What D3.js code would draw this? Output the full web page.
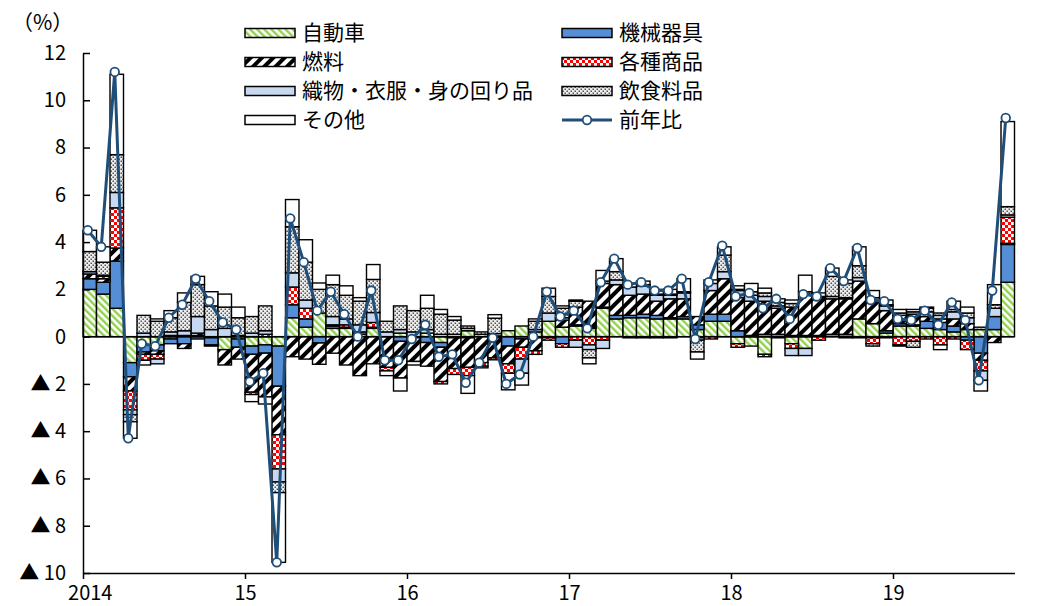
<!DOCTYPE html>
<html>
<head>
<meta charset="utf-8">
<script src="https://cdn.jsdelivr.net/npm/d3@7"></script>
<style>
    body { margin: 0; background: #fff; }
    svg { display: block; font-family: "Noto Sans CJK JP", "Noto Sans", sans-serif; }
</style>
</head>
<body>
<svg id="chart" width="1053" height="606"></svg>
<script>
/**
 * Data: contributions by category (%pt), one value per month from 2014.01.
 */
const yearLabels = ['2014', '15', '16', '17', '18', '19'];
const seriesNames = ['自動車', '機械器具', '燃料', '各種商品', '織物・衣服・身の回り品', '飲食料品', 'その他'];
const lineName = '前年比';

const auto = [
    2.0, 1.8, 1.2, -1.1, -0.35, -0.35, -0.1, 0.05, 0.05, -0.05, -0.55, -0.1,
    -0.4, -0.35, -0.4, 0.8, 0.4, 1.0, 0.35, 0.35, 0.1, 0.35, 0, 0.15,
    0, 0.15, -0.25, 0, 0.25, 0.1, 0.03, 0.25, 0.45, 0.2, 0.65, 0.4,
    0.45, 0.35, 1.2, 0.75, 0.8, 0.8, 0.75, 0.75, 0.75, 0.3, 0.65, 0.65,
    -0.3, -0.4, -0.75, -0.05, -0.3, -0.5, 0, 0, 0, 0.75, 0.55, 0.15,
    0.45, 0.45, 0.35, 0.3, 0.2, 0.3, 0.3, 0.3, 2.3
];
const machinery = [
    0.45, 0.5, 2.0, -0.6, -0.3, -0.25, -0.2, -0.3, -0.1, -0.3, 0, -0.35,
    -0.35, -0.35, -1.7, 0.55, 0.35, -0.27, 0.1, 0.05, 0.1, 0.05, 0, -0.2,
    -0.05, -0.25, -0.2, -0.05, -0.05, 0, -0.05, -0.4, -0.1, -0.05, 0, -0.3,
    0.05, 0.05, 0.05, 0.15, 0.1, 0.15, 0.15, 0.05, 0.1, 0.2, 0.3, 0.3,
    0.25, 0.05, 0.1, 0.1, 0.05, 0.05, 0.05, 0.1, 0.1, 0, -0.05, 0.1,
    0.1, 0.05, 0.3, 0.3, 0.25, -0.15, -0.7, 0.55, 1.6
];
const fuel = [
    0.2, 0.15, 0.55, -0.6, -0.1, -0.15, 0.05, -0.2, 0.1, 0, -0.65, -0.5,
    -1.6, -1.85, -2.05, -0.85, -0.95, -0.9, -0.7, -1.2, -1.65, -1.15, -1.3, -1.55,
    -1.0, -1.0, -1.45, -1.3, -1.25, -1.1, -0.85, -0.75, -0.35, -0.55, -0.05, 0.3,
    0.75, 1.1, 1.0, 1.3, 0.85, 0.85, 0.6, 0.8, 0.75, 0.35, 1.0, 1.5,
    1.4, 1.45, 1.4, 1.1, 1.2, 1.75, 1.6, 1.5, 1.5, 1.6, 0.95, 0.85,
    0.35, 0.45, 0.2, 0.15, 0.3, 0.25, -0.3, -0.25, 0.05
];
const variety = [
    0, 0.1, 1.7, -0.8, -0.25, -0.2, 0, 0, 0, -0.05, 0, 0,
    -0.1, 0.1, -1.45, 0.75, 0.45, 0, 0.05, 0.1, 0, 0.2, -0.15, 0,
    0, 0, -0.1, -0.25, -0.35, -0.15, -0.08, -0.4, -0.5, -0.15, -0.1, -0.15,
    -0.15, -0.35, -0.15, 0, -0.05, -0.05, -0.05, -0.05, 0, -0.05, -0.1, 0,
    -0.15, 0, -0.1, 0, -0.2, 0, -0.15, 0, -0.05, -0.05, -0.25, -0.05,
    -0.35, -0.2, -0.1, -0.35, -0.1, -0.4, -0.45, 0, 1.1
];
const textiles = [
    0.1, 0.05, 0.65, -0.2, 0.15, -0.2, 0.15, 0.2, 0.7, 0.3, 0.35, 0.05,
    0.15, 0.15, -0.55, 0.6, 0.35, 0, 0.35, 0.25, 0.3, 0.42, 0.2, 0.15,
    0.2, 0.15, 0.1, 0.1, 0.1, 0, 0.1, 0, -0.6, 0.1, 0.35, 0.1,
    -0.3, -0.2, -0.35, 0.2, 0.35, 0.35, 0.25, 0.15, 0.25, -0.1, 0.3, 0.3,
    0.3, 0.25, 0.2, 0.1, -0.3, -0.3, 0, 0.1, 0.05, 0.15, 0.15, 0.2,
    0.1, 0.1, 0.2, 0.15, 0.3, 0.25, -0.4, 0.35, 0.1
];
const food = [
    0.85, 0.55, 1.6, -0.3, 0.75, 0.65, 0.6, 1.2, 1.35, 1.0, 0.9, 0.75,
    0.7, 1.05, -0.45, 1.95, 1.6, 1.0, 1.35, 1.0, 1.0, 1.4, 0.45, 1.0,
    0.9, 0.9, 0.85, 0.6, 0.1, 0.1, 0.65, 0, 0, 0.35, 0.7, 0.4,
    0.25, -0.35, 0.1, 0.35, 0, 0.05, 0.05, 0.05, 0.05, -0.5, 0, 0.7,
    0.05, 0.15, 0.15, 0.15, 0.15, 0.1, 0.05, 0.85, 0.6, 0.5, -0.1, 0.05,
    -0.05, -0.25, 0.15, 0.1, 0.1, 0.2, 0.1, 0.15, 0.35
];
const other = [
    0.9, 0.65, 3.4, -0.7, -0.2, 0.1, 0.3, 0.4, 0.35, 0.6, 0.55, 0.45,
    -0.3, -0.3, -2.95, 1.15, 0.95, 0.27, 0.4, 0.4, 0.15, 0.63, -0.2, -0.55,
    -0.15, 0.55, 0.2, 0.15, -0.75, -0.07, 0.15, -0.7, -0.5, 0.1, 0.35, 0.1,
    0.05, -0.25, 0.45, 0.55, 0.15, 0.15, 0.2, 0.2, 0.55, -0.3, 0.15, 0.35,
    0.15, 0.35, 0.2, 0.15, 0.15, 0.7, 0.15, 0.35, 0.15, 0.8, 0.3, 0.2,
    0.15, 0.1, 0.05, -0.2, 0.35, 0.25, -0.45, 0.85, 3.6
];
const yoy = [
    4.5, 3.8, 11.2, -4.3, -0.3, -0.4, 0.8, 1.35, 2.45, 1.5, 0.6, 0.3,
    -1.9, -1.55, -9.55, 5.0, 3.15, 1.1, 1.9, 0.95, 0.0, 1.95, -1.0, -1.0,
    -0.1, 0.5, -0.85, -0.75, -1.95, -1.1, -0.05, -2.0, -1.6, 0.0, 1.9, 0.85,
    1.1, 0.35, 2.3, 3.3, 2.2, 2.3, 1.95, 1.95, 2.45, -0.1, 2.3, 3.85,
    1.7, 1.85, 1.2, 1.6, 0.75, 1.8, 1.7, 2.9, 2.35, 3.75, 1.55, 1.5,
    0.75, 0.7, 1.1, 0.5, 1.45, 0.7, -1.85, 1.95, 9.25
];

/**
 * Visual configs.
 */
const plot = { left: 83, right: 1014.5, top: 53, bottom: 573 },
    lineColor = '#1F4E79',
    fills = ['url(#pat-auto)', '#558ED5', 'url(#pat-fuel)', 'url(#pat-variety)', '#C6D9F1', 'url(#pat-food)', '#fff'],
    legendCols = [245, 562],
    legendRows = [33, 62, 91, 120];

/**
 * Table built from the arrays.
 */
const keys = ['auto', 'machinery', 'fuel', 'variety', 'textiles', 'food', 'other'];
const columns = [auto, machinery, fuel, variety, textiles, food, other];
const months = auto.map((_, i) => (2014 + Math.floor(i / 12)) + '-' + String(i % 12 + 1).padStart(2, '0'));
const table = months.map((m, i) => {
    const row = { month: m };
    keys.forEach((k, j) => { row[k] = columns[j][i]; });
    return row;
});

/**
 * D3.
 */
const svg = d3.select('#chart');
const x = d3.scaleBand().domain(months).range([plot.left, plot.right]).padding(0);
const xIndex = d3.scaleLinear().domain([0, months.length]).range([plot.left, plot.right]);
const y = d3.scaleLinear().domain([-10, 12]).range([plot.bottom, plot.top]);
const stacked = d3.stack().keys(keys).offset(d3.stackOffsetDiverging)(table);

svg.append('rect').attr('width', 1053).attr('height', 606).attr('fill', '#fff');

/**
 * Patterns.
 */
const defs = svg.append('defs');

function stripes(id, size, band, color, angle) {
    const p = defs.append('pattern').attr('id', id)
        .attr('patternUnits', 'userSpaceOnUse')
        .attr('width', size).attr('height', size)
        .attr('patternTransform', 'rotate(' + angle + ')');
    p.append('rect').attr('width', size).attr('height', size).attr('fill', '#fff');
    p.append('rect').attr('width', band).attr('height', size).attr('fill', color);
}
stripes('pat-auto', 5, 2.4, '#92D050', -45);
stripes('pat-fuel', 8, 4, '#000', 45);

const checker = defs.append('pattern').attr('id', 'pat-variety')
    .attr('patternUnits', 'userSpaceOnUse').attr('width', 6).attr('height', 6);
checker.append('rect').attr('width', 6).attr('height', 6).attr('fill', '#fff');
checker.append('rect').attr('width', 3).attr('height', 3).attr('fill', '#FF0000');
checker.append('rect').attr('x', 3).attr('y', 3).attr('width', 3).attr('height', 3).attr('fill', '#FF0000');

const dots = defs.append('pattern').attr('id', 'pat-food')
    .attr('patternUnits', 'userSpaceOnUse').attr('width', 4).attr('height', 4);
dots.append('rect').attr('width', 4).attr('height', 4).attr('fill', '#EDEDED');
dots.append('rect').attr('x', 0.5).attr('y', 0.5).attr('width', 1.5).attr('height', 1.5).attr('fill', '#555');
dots.append('rect').attr('x', 2.5).attr('y', 2.5).attr('width', 1.5).attr('height', 1.5).attr('fill', '#555');

/**
 * Stacked bars.
 */
const layers = svg.append('g').attr('class', 'layers')
    .selectAll('g').data(stacked).join('g')
    .attr('fill', (d, i) => fills[i]);

layers.selectAll('rect')
    .data(d => d.filter(s => s[1] !== s[0]))
    .join('rect')
    .attr('x', s => x(s.data.month))
    .attr('width', x.bandwidth())
    .attr('y', s => y(s[1]))
    .attr('height', s => y(s[0]) - y(s[1]))
    .attr('stroke', '#000')
    .attr('stroke-width', 1.4);

/**
 * Axes.
 */
function styleAxis(g) {
    g.attr('font-family', null).attr('font-size', null);
    g.selectAll('text').attr('font-size', 20).attr('fill', '#000');
    g.selectAll('line, path').attr('stroke', '#000').attr('stroke-width', 1.5);
}

const yAxis = d3.axisLeft(y)
    .tickValues(d3.range(-10, 13, 2))
    .tickSizeInner(-7).tickSizeOuter(0).tickPadding(17)
    .tickFormat(d => d < 0 ? '▲ ' + (-d) : d);
svg.append('g').attr('class', 'y-axis')
    .attr('transform', 'translate(' + plot.left + ',0)')
    .call(yAxis)
    .call(styleAxis);

const xAxis = d3.axisBottom(xIndex)
    .tickValues(d3.range(0, months.length, 12))
    .tickSizeInner(6).tickSizeOuter(0).tickPadding(7)
    .tickFormat((d, i) => yearLabels[i]);
svg.append('g').attr('class', 'x-axis')
    .attr('transform', 'translate(0,' + plot.bottom + ')')
    .call(xAxis)
    .call(styleAxis)
    .call(g => g.selectAll('.tick').filter((d, i) => i === 0).select('text').attr('x', x.step() / 2));

// Zero line
svg.append('line')
    .attr('x1', plot.left).attr('x2', plot.right)
    .attr('y1', y(0)).attr('y2', y(0))
    .attr('stroke', '#000').attr('stroke-width', 1.5);

svg.append('text')
    .attr('x', 12).attr('y', 30)
    .attr('font-size', 21)
    .text('（%）');

/**
 * Year-on-year line.
 */
const px = (d, i) => x(months[i]) + x.bandwidth() / 2 - 2;
svg.append('path')
    .datum(yoy)
    .attr('fill', 'none')
    .attr('stroke', lineColor)
    .attr('stroke-width', 3)
    .attr('stroke-linejoin', 'round')
    .attr('d', d3.line().x(px).y(d => y(d)));

svg.append('g').selectAll('circle').data(yoy).join('circle')
    .attr('cx', px)
    .attr('cy', d => y(d))
    .attr('r', 4.3)
    .attr('fill', '#fff')
    .attr('stroke', lineColor)
    .attr('stroke-width', 1.8);

/**
 * Legend.
 */
const legend = svg.append('g').attr('class', 'legend');
seriesNames.forEach((name, i) => {
    const lx = legendCols[i % 2], ly = legendRows[Math.floor(i / 2)];
    legend.append('rect')
        .attr('x', lx).attr('y', ly - 4.5)
        .attr('width', 50).attr('height', 9)
        .attr('fill', fills[i]).attr('stroke', '#000').attr('stroke-width', 1.5);
    legend.append('text')
        .attr('x', lx + 57).attr('y', ly).attr('dy', '0.35em')
        .attr('font-size', 21)
        .text(name);
});
{
    const lx = legendCols[1], ly = legendRows[3];
    legend.append('line')
        .attr('x1', lx).attr('x2', lx + 50).attr('y1', ly).attr('y2', ly)
        .attr('stroke', lineColor).attr('stroke-width', 3);
    legend.append('circle')
        .attr('cx', lx + 25).attr('cy', ly).attr('r', 4.3)
        .attr('fill', '#fff').attr('stroke', lineColor).attr('stroke-width', 1.8);
    legend.append('text')
        .attr('x', lx + 57).attr('y', ly).attr('dy', '0.35em')
        .attr('font-size', 21)
        .text(lineName);
}
</script>
</body>
</html>
